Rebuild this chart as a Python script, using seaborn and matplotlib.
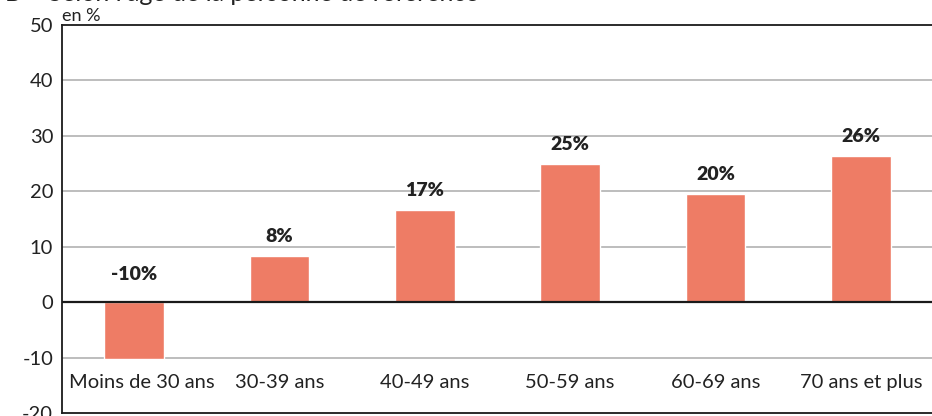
import matplotlib
matplotlib.use("Agg")
import matplotlib.pyplot as plt
import seaborn as sns
import pandas as pd

categories = ["Moins de 30 ans", "30-39 ans", "40-49 ans", "50-59 ans", "60-69 ans", "70 ans et plus"]
values = [-10.3, 8.4, 16.6, 24.9, 19.6, 26.4]
yticks = [-20, -10, 0, 10, 20, 30, 40, 50]

sns.set_theme(style="white")
plt.rcParams["font.family"] = ["Lato", "DejaVu Sans"]

df = pd.DataFrame({"age": categories, "val": values})

fig = plt.figure(figsize=(9.32, 4.16), dpi=100)
ax = fig.add_axes([61.5 / 932, 3 / 416, 872 / 932, 388 / 416])

sns.barplot(data=df, x="age", y="val", color="#EE7C65", saturation=1,
            width=0.41, ax=ax, zorder=3)

ax.set_xlim(-0.5, 5.5)
ax.set_ylim(-20, 50)
ax.set_yticks(yticks)
ax.set_yticklabels([str(t) for t in yticks], fontsize=14.5, color="#222222")
ax.tick_params(axis="y", length=0, pad=6)
ax.set_xticks([])
ax.set_xlabel("")
ax.set_ylabel("")

for t in yticks:
    if t in (-20, 50):
        continue
    if t == 0:
        ax.axhline(0, color="#1a1a1a", lw=1.6, zorder=4)
    else:
        ax.axhline(t, color="#bdbdbd", lw=1.4, zorder=1)

for side in ("left", "top", "bottom"):
    ax.spines[side].set_visible(True)
    ax.spines[side].set_color("#1a1a1a")
    ax.spines[side].set_linewidth(1.3)
ax.spines["right"].set_visible(False)

# value labels above the bars (negative bar gets its label above the zero line)
for i, v in enumerate(values):
    y = v + 3.5 if v > 0 else 5
    ax.text(i, y, f"{v:.0f}%", ha="center", va="center", fontsize=14,
            fontweight="heavy", color="#222222", zorder=5)

# category names sit inside the plot, below the -10 line
for i, c in enumerate(categories):
    xoff = 0.05 if i == 0 else 0
    ax.text(i + xoff, -14.5, c, ha="center", va="center", fontsize=14.5, color="#222222")

fig.text(62 / 932, 1 - 21 / 416, "en %", fontsize=13, color="#222222",
         ha="left", va="baseline")
fig.text(5 / 932, 1 - 1 / 416, "B \u2013 Selon l\u2019\u00e2ge de la personne de r\u00e9f\u00e9rence",
         fontsize=18, color="#222222", ha="left", va="baseline")

fig.savefig("out.png", dpi=100)
